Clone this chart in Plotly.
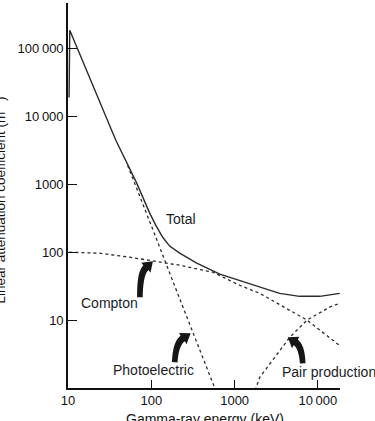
import numpy as np
import plotly.graph_objects as go

# ---- data ----
total_E = [10.3, 10.5, 37.4, 66.8, 95.7, 113, 137, 166, 219, 351, 664, 1150, 2000, 3470, 6030, 10500, 18300]
total_mu = [19000, 185000, 4490, 1040, 376, 250, 166, 123, 96.7, 68.9, 47.5, 38.6, 30.5, 24.8, 22.4, 22.4, 24.8]

compton_E = [10.4, 24, 55, 96, 219, 548, 1150, 2000, 3470, 7400, 18300]
compton_mu = [100, 96.7, 84.4, 76, 64.3, 50.7, 32.6, 24.8, 17.1, 10, 4.2]

photo_E = [52, 72.8, 105, 202, 414, 546, 577]
photo_mu = [1900, 648, 211, 26.6, 2.83, 1.17, 1.0]

pair_E = [1760, 2000, 4590, 7400, 13800, 18300]
pair_mu = [0.92, 1.43, 5.57, 10, 15.5, 17.7]

x_tickvals = [10, 100, 1000, 10000]
x_ticktext = ["10", "100", "1000", "10\u2009000"]
y_tickvals = [10, 100, 1000, 10000, 100000]
y_ticktext = ["10", "100", "1000", "10\u2009000", "100\u2009000"]

labels = ["Total", "Compton", "Photoelectric", "Pair production"]
label_E = [225, 31.7, 107, 3480]
label_mu = [312, 17.7, 1.82, 1.70]

arrow_tip_E = [104.5, 297, 4340]
arrow_tip_mu = [73.6, 6.4, 5.57]

# ---- styling ----
FONT = "Liberation Sans, Arial, Helvetica, sans-serif"
LINE = "#2b2b2b"

fig = go.Figure()
fig.add_trace(go.Scatter(x=total_E, y=total_mu, mode="lines",
                         line=dict(color=LINE, width=1.4), hoverinfo="skip"))
for xs, ys in [(compton_E, compton_mu), (photo_E, photo_mu), (pair_E, pair_mu)]:
    fig.add_trace(go.Scatter(x=xs, y=ys, mode="lines",
                             line=dict(color=LINE, width=1.3, dash="3px,3px"),
                             hoverinfo="skip"))

# ---- curved block arrows (pixel geometry relative to tip, y up) ----
def arrow_path(tail, ctrl, w=7.0, head_len=9.5, head_w=13.5, n=12):
    tip = np.array([0.0, 0.0])
    tail = np.array(tail, float)
    ctrl = np.array(ctrl, float)
    d = tip - ctrl
    d /= np.linalg.norm(d)
    base = tip - d * head_len
    t = np.linspace(0, 1, n)[:, None]
    pts = (1 - t) ** 2 * tail + 2 * (1 - t) * t * ctrl + t ** 2 * base
    tang = np.gradient(pts, axis=0)
    tang /= np.linalg.norm(tang, axis=1)[:, None]
    nrm = np.stack([-tang[:, 1], tang[:, 0]], axis=1)
    widths = np.linspace(w * 0.8, w, n)[:, None]
    left = pts + nrm * widths / 2
    right = pts - nrm * widths / 2
    pn = np.array([-d[1], d[0]])
    hl = base + pn * head_w / 2
    hr = base - pn * head_w / 2
    poly = list(left) + [hl, tip, hr] + list(right[::-1])
    return "M " + " L ".join(f"{p[0]:.1f},{p[1]:.1f}" for p in poly) + " Z"

arrow_geom = [((-13, -36), (-13, -12)),
              ((-16, -29), (-15, -10)),
              ((15, -26), (14, -9))]

shapes = []
for (tail, ctrl), e, m in zip(arrow_geom, arrow_tip_E, arrow_tip_mu):
    shapes.append(dict(type="path", xref="x", yref="y",
                       xsizemode="pixel", ysizemode="pixel",
                       xanchor=e, yanchor=m,
                       path=arrow_path(tail, ctrl),
                       fillcolor="#161616", line=dict(width=0)))

annotations = []
for txt, e, m, anc in zip(labels, label_E, label_mu, ["center", "center", "center", "left"]):
    annotations.append(dict(x=np.log10(e), y=np.log10(m), xref="x", yref="y",
                            text=txt, showarrow=False, xanchor=anc, yanchor="middle",
                            font=dict(family=FONT, size=14, color="#1c1c28")))

annotations.append(dict(x=-0.252, y=0.488, xref="paper", yref="paper",
                        text="Linear attenuation coefficient (m<sup>\u22121</sup>)",
                        textangle=-90, showarrow=False, xanchor="center", yanchor="middle",
                        font=dict(family=FONT, size=13.5, color="#111")))
annotations.append(dict(x=0.504, y=-0.08, xref="paper", yref="paper",
                        text="Gamma-ray energy (keV)", showarrow=False,
                        xanchor="center", yanchor="middle",
                        font=dict(family=FONT, size=14, color="#111")))

fig.update_layout(
    width=375, height=421,
    margin=dict(l=68, r=35, t=3, b=33),
    paper_bgcolor="white", plot_bgcolor="white",
    showlegend=False,
    shapes=shapes, annotations=annotations,
    font=dict(family=FONT, color="#111"),
)
fig.update_xaxes(type="log", range=[1, 4.265], showgrid=False, zeroline=False,
                 showline=True, linecolor="#111", linewidth=1.6,
                 ticks="inside", ticklen=8, tickwidth=1.2, tickcolor="#111",
                 tickvals=x_tickvals, ticktext=x_ticktext,
                 tickfont=dict(family=FONT, size=13, color="#111"))
fig.update_yaxes(type="log", range=[0, 5.67], showgrid=False, zeroline=False,
                 showline=True, linecolor="#111", linewidth=1.6,
                 ticks="inside", ticklen=9, tickwidth=1.2, tickcolor="#111",
                 tickvals=y_tickvals, ticktext=y_ticktext,
                 tickfont=dict(family=FONT, size=13, color="#111"))

fig.write_html("out.html")
